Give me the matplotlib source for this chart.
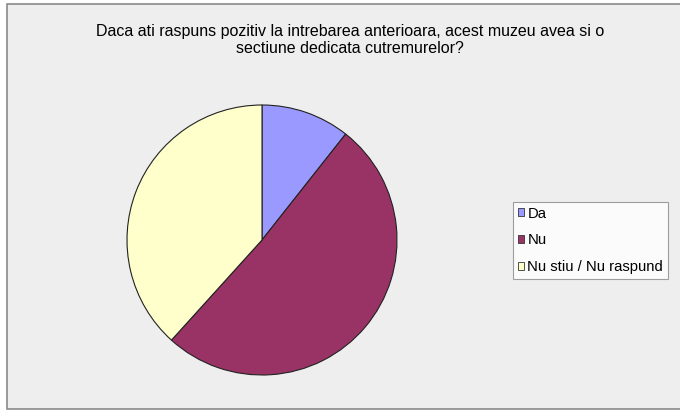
import matplotlib
matplotlib.use("Agg")
import matplotlib.pyplot as plt
from matplotlib.patches import Rectangle

categories = ["Da", "Nu", "Nu stiu / Nu raspund"]
values = [5, 24, 18]
colors = ["#9999FF", "#993366", "#FFFFCC"]
title = "Daca ati raspuns pozitiv la intrebarea anterioara, acest muzeu avea si o\nsectiune dedicata cutremurelor?"

plt.rcParams['font.family'] = ['Liberation Sans', 'DejaVu Sans']

W, H = 680, 411
fig = plt.figure(figsize=(W / 100, H / 100), dpi=100)
fig.patch.set_facecolor("white")

# outer chart area
fig.patches.append(Rectangle((7 / W, 1 - 409 / H), (W + 5 - 7) / W, (409 - 4) / H,
                             transform=fig.transFigure, facecolor="#EEEEEE",
                             edgecolor="#8a8a8a", linewidth=1.2, zorder=-5))

cx, cy, r = 262, 240, 135
ax = fig.add_axes([(cx - r) / W, 1 - (cy + r) / H, 2 * r / W, 2 * r / H])
ax.set_zorder(2)
wedges, _ = ax.pie(values, colors=colors, startangle=90, counterclock=False,
                   radius=1.0, wedgeprops=dict(edgecolor="#222222", linewidth=0.8))
ax.set_xlim(-1.0, 1.0)
ax.set_ylim(-1.0, 1.0)
ax.set_aspect("equal")
ax.axis("off")

fig.text(350 / W, 1 - 40 / H, title, ha="center", va="center", fontsize=11.5,
         linespacing=1.15)

leg = fig.legend(wedges, categories, loc="upper left",
                 bbox_to_anchor=(513 / W, 1 - 202 / H), fontsize=10.7,
                 frameon=True, fancybox=False, edgecolor="#888888",
                 handlelength=0.45, handleheight=0.45, handletextpad=0.2,
                 labelspacing=0.85, borderpad=0.32, borderaxespad=0)
leg.get_frame().set_linewidth(0.8)
for h in leg.legend_handles:
    h.set_edgecolor("#333333")
    h.set_linewidth(0.6)

fig.savefig("out.png", dpi=100, facecolor=fig.get_facecolor())
